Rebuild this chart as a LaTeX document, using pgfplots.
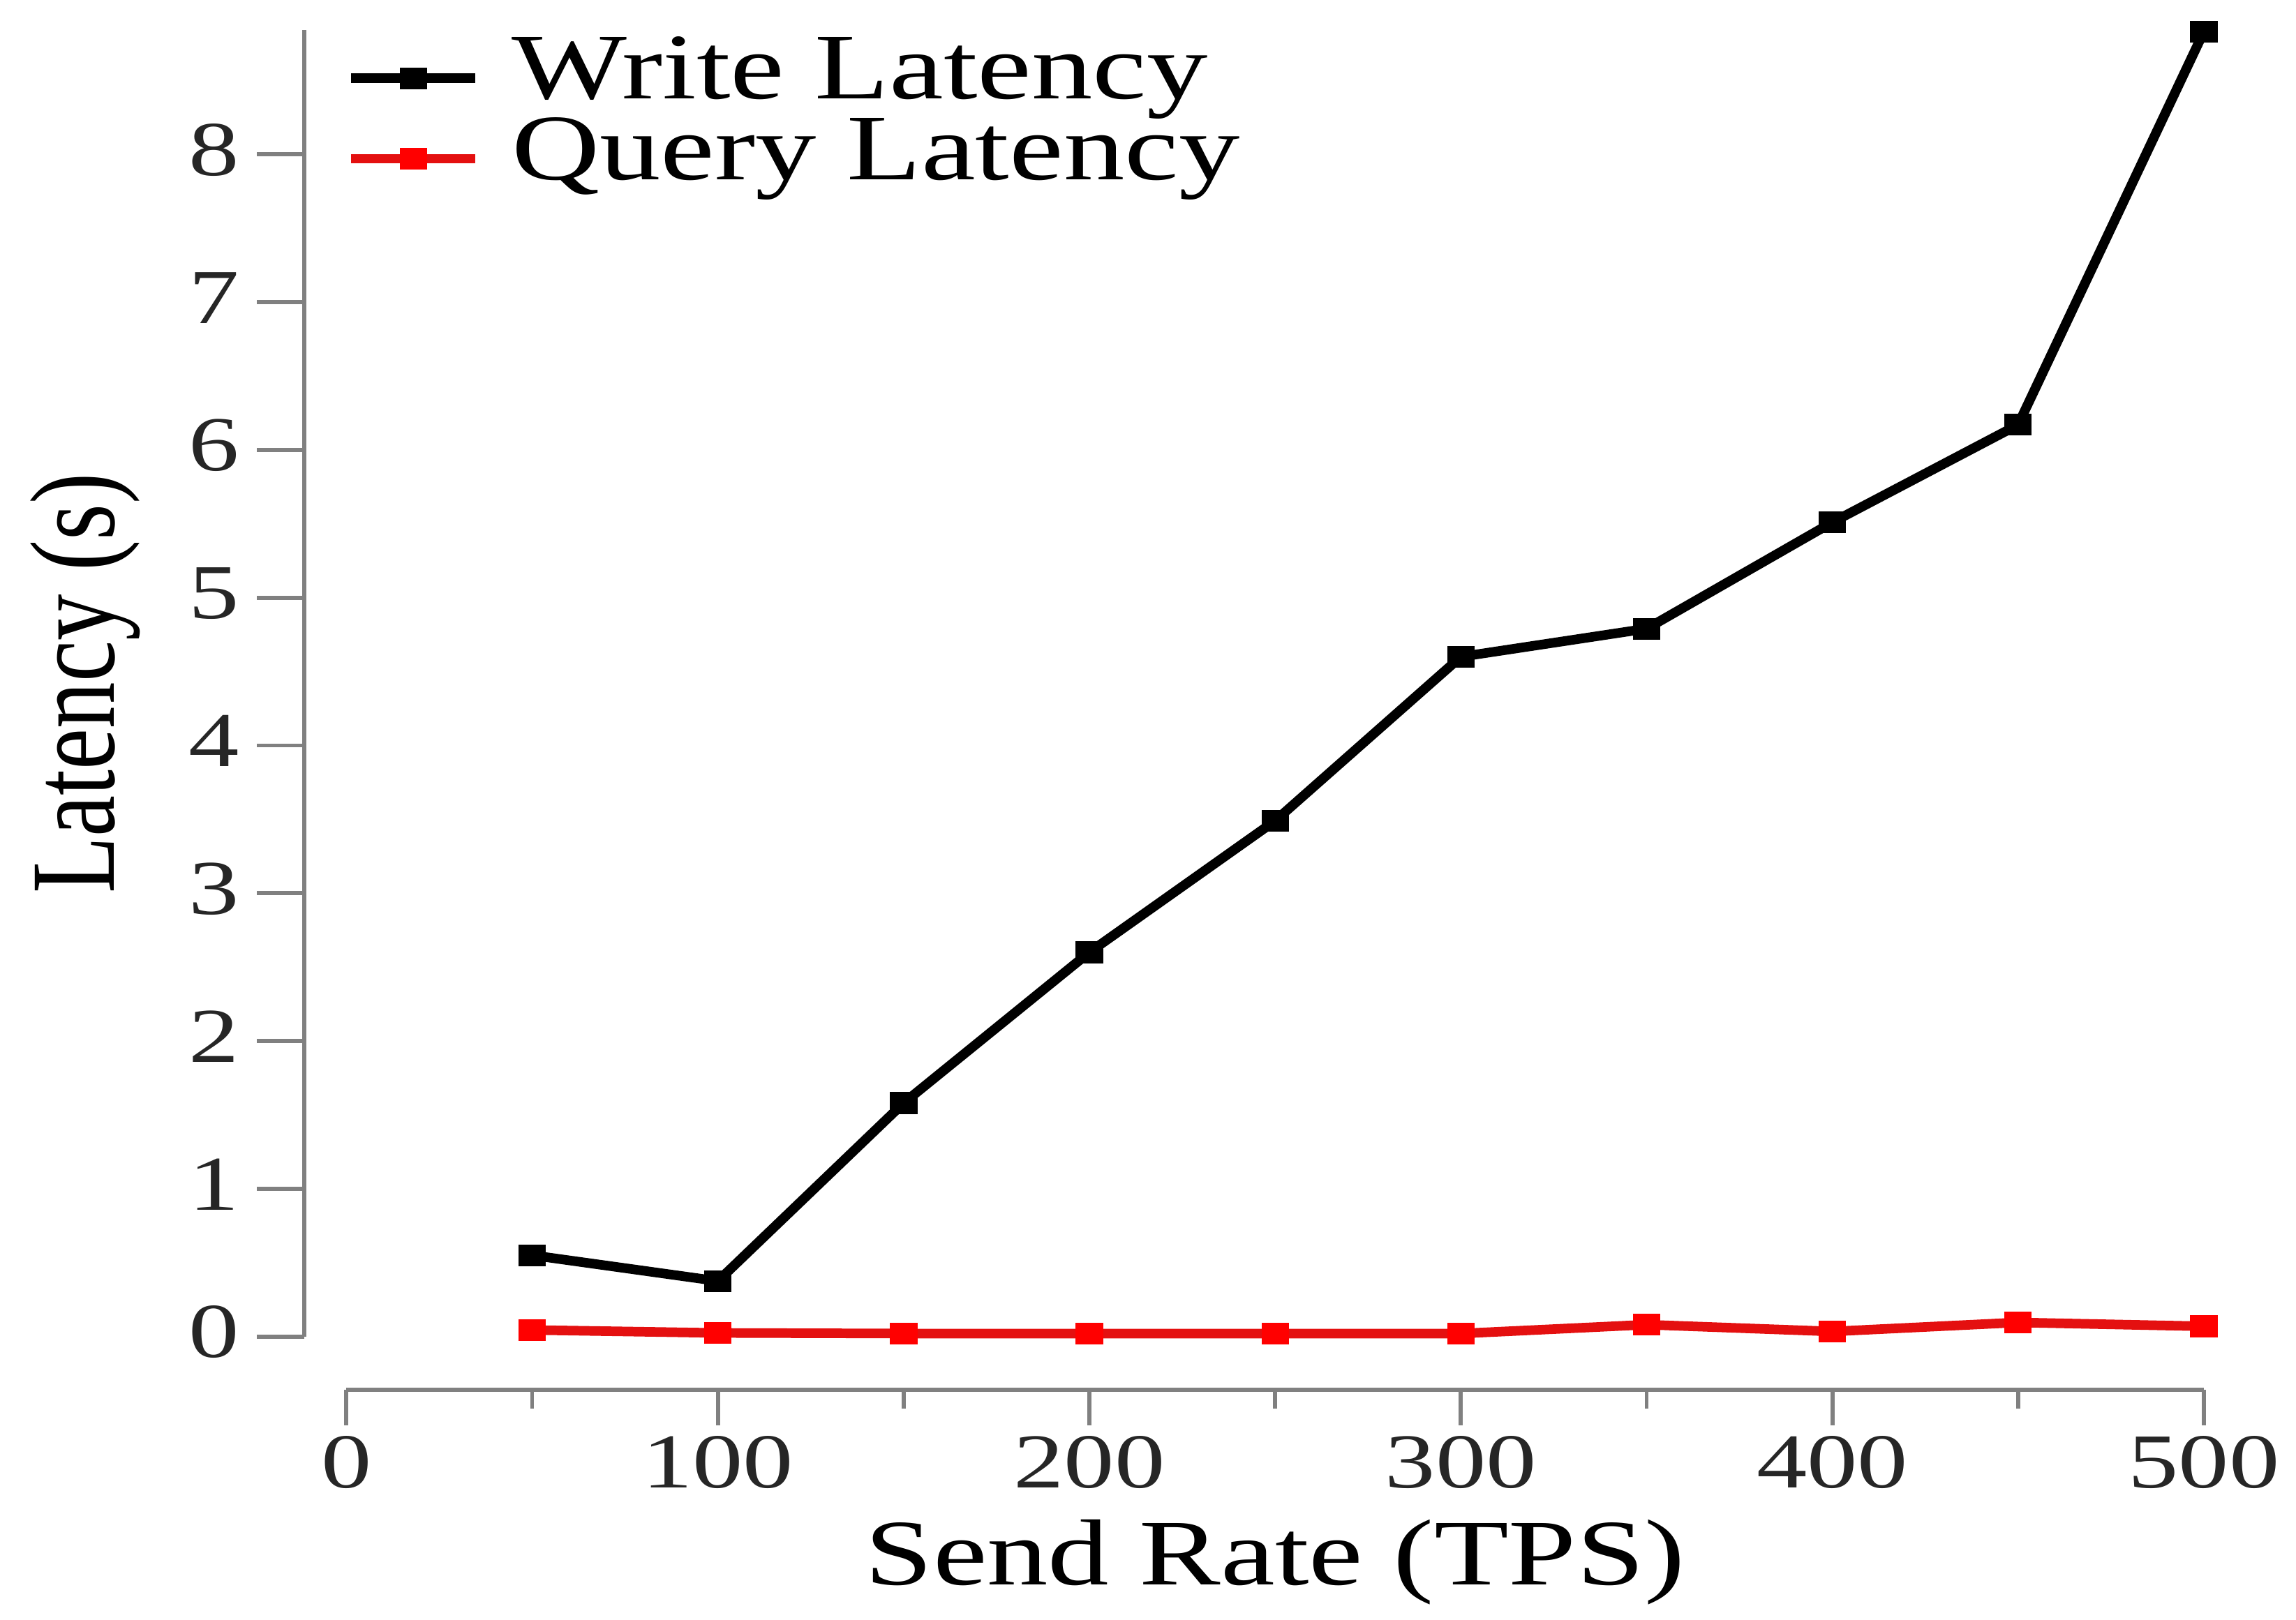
\documentclass[border=0pt]{standalone}
\usepackage{fontspec}
\setmainfont{Liberation Serif}[FakeStretch=1.3]
\newfontfamily\plainserif{Liberation Serif}
\usepackage{pgfplots}
\pgfplotsset{compat=1.18}

\definecolor{axisgray}{RGB}{128,128,128}
\definecolor{qred}{RGB}{228,16,16}

\begin{document}
\begin{tikzpicture}
\useasboundingbox (-2.414,-1.976) rectangle (13.586,9.316);
\begin{axis}[
    at={(0,0)}, anchor=origin,
    scale only axis,
    width=12.944cm, height=9.105cm,
    xmin=0, xmax=500,
    ymin=0, ymax=8.84,
    clip=false,
    axis lines=left,
    axis x line shift=0.373cm,
    axis y line shift=0.293cm,
    axis line style={-, draw=axisgray, line width=0.8pt},
    tick style={draw=axisgray, line width=0.8pt},
    tick align=outside,
    major tick length=0.33cm,
    minor tick length=0.13cm,
    xtick={0,100,...,500},
    minor x tick num=1,
    ytick={0,1,...,8},
    xtick style={/pgfplots/major tick length=0.245cm},
    /pgf/number format/assume math mode=true,
    ticklabel style={font=\fontsize{15.4}{18}\selectfont, text=black!85},
    xticklabel style={anchor=base, yshift=-0.35cm},
    yticklabel style={yshift=0.03cm},
    xlabel={Send Rate (TPS)},
    ylabel={Latency (s)},
    xlabel style={at={(axis description cs:0.5,-0.1901)}, anchor=base,
        font=\fontsize{18.6}{22}\selectfont},
    ylabel style={at={(axis description cs:-0.1252,0.5)}, anchor=base,
        yscale=1.3, font=\plainserif\fontsize{18.4}{22}\selectfont},
    legend style={at={(axis cs:0,8.787)}, anchor=north west,
        draw=none, fill=none, inner sep=0pt, outer sep=0pt,
        row sep=0pt, column sep=0.22cm,
        font=\fontsize{18.6}{22}\selectfont,
        nodes={inner sep=0pt, text height=0.4235cm, text depth=0.1375cm}},
    legend cell align=left,
    legend image code/.code={
        \draw[mark repeat=2, mark phase=2, #1]
            plot coordinates {(0cm,0cm) (0.433cm,0cm) (0.866cm,0cm)};
    },
]

% write latency
\addplot[black, line width=1.9pt, mark=square*, mark size=1.9pt,
    mark options={solid, line width=0.5pt, xscale=1.3}]
    coordinates {
    (50,0.55)(100,0.375)(150,1.58)(200,2.60)(250,3.49)
    (300,4.60)(350,4.79)(400,5.51)(450,6.17)(500,8.83)
    };

% query latency
\addplot[qred, line width=1.9pt, mark=square*, mark size=1.9pt,
    mark options={solid, line width=0.5pt, xscale=1.3, draw=red, fill=red}]
    coordinates {
    (50,0.044)(100,0.024)(150,0.02)(200,0.02)(250,0.02)
    (300,0.02)(350,0.08)(400,0.034)(450,0.095)(500,0.069)
    };

\legend{Write Latency, Query Latency}
\end{axis}
\end{tikzpicture}
\end{document}
